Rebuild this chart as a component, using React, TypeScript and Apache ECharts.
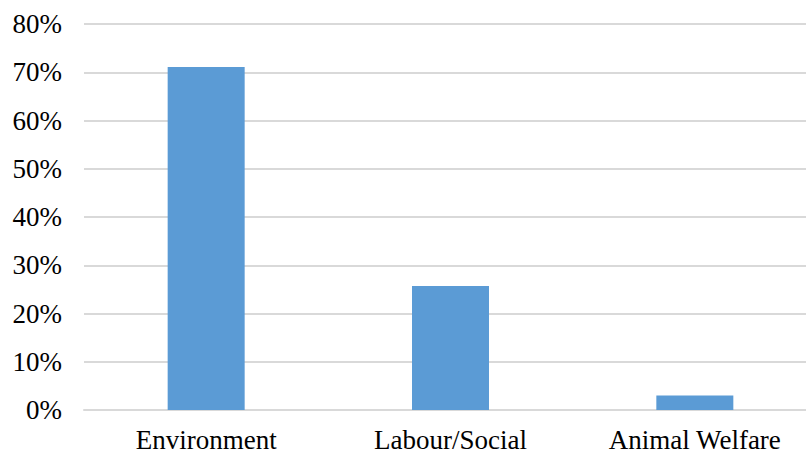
import React, { useEffect, useRef } from "react";
import * as echarts from "echarts";

const categories = ["Environment", "Labour/Social", "Animal Welfare"];
const values = [71.1, 25.7, 3.0];
const yTicks = { min: 0, max: 80, interval: 10 };

const FONT = "'Liberation Serif', 'Times New Roman', 'DejaVu Serif', serif";

export default function App() {
  const ref = useRef<HTMLDivElement>(null);
  useEffect(() => {
    if (!ref.current) return;
    const chart = echarts.init(ref.current, null, { renderer: "svg" });
    chart.setOption({
      animation: false,
      backgroundColor: "#ffffff",
      grid: { left: 84, top: 24, width: 733, height: 386, containLabel: false },
      xAxis: {
        type: "category",
        data: categories,
        axisLine: { show: true, lineStyle: { color: "#d9d9d9", width: 2 } },
        axisTick: { show: false },
        axisLabel: {
          color: "#000",
          fontFamily: FONT,
          fontSize: 27,
          margin: 16,
          interval: 0,
        },
      },
      yAxis: {
        type: "value",
        min: yTicks.min,
        max: yTicks.max,
        interval: yTicks.interval,
        axisLine: { show: false },
        axisTick: { show: false },
        splitLine: { lineStyle: { color: "#d9d9d9", width: 2 } },
        axisLabel: {
          color: "#000",
          fontFamily: FONT,
          fontSize: 27,
          margin: 22,
          formatter: "{value}%",
        },
      },
      series: [
        {
          type: "bar",
          data: values,
          barWidth: 77,
          itemStyle: { color: "#5b9bd5" },
        },
      ],
    });
    return () => chart.dispose();
  }, []);
  return (
    <div
      style={{
        position: "fixed",
        left: 0,
        top: 0,
        width: 806,
        height: 456,
        overflow: "hidden",
        background: "#fff",
      }}
    >
      <div ref={ref} style={{ width: 830, height: 456 }} />
    </div>
  );
}
